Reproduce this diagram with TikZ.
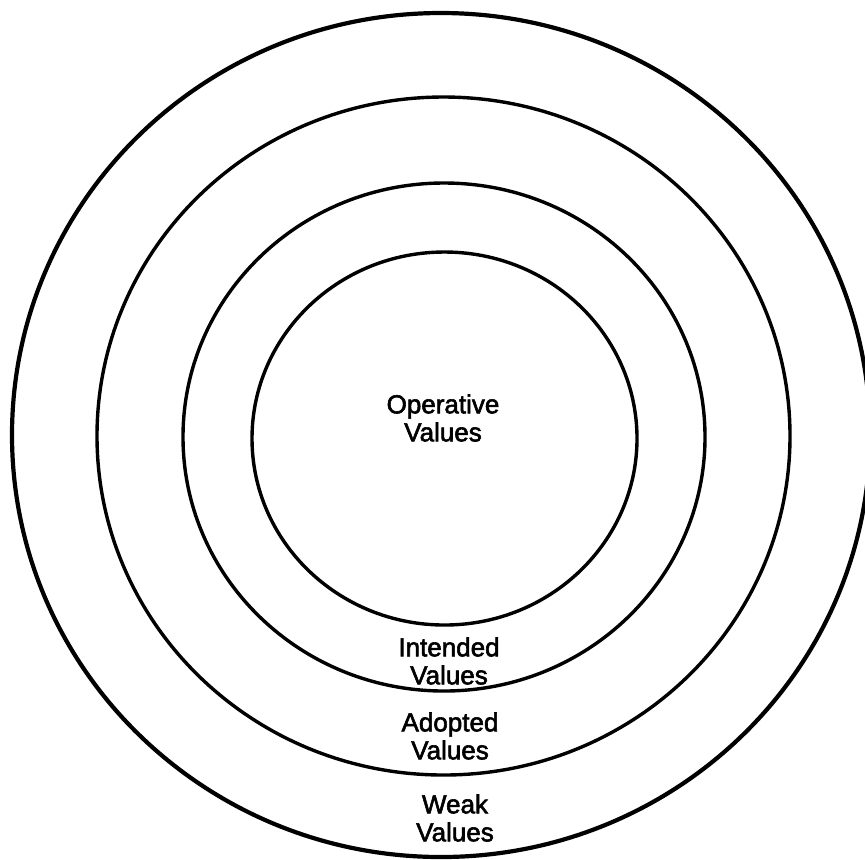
\documentclass[tikz,border=0pt]{standalone}
\usepackage{fontspec}
\setmainfont[FakeBold=2.2]{Liberation Sans}
\begin{document}
\begin{tikzpicture}[x=0.5pt,y=-0.5pt,
  ring/.style={draw=black,line width=1.7pt},
  outerring/.style={draw=black,line width=2.1pt},
  lbl/.style={align=center,font=\fontsize{13pt}{14pt}\selectfont,inner sep=0pt}]
\useasboundingbox (0,0) rectangle (865,859);
\path[outerring] (441,435) ellipse [x radius=214.5pt, y radius=211pt];
\path[ring] (443.5,436) ellipse [x radius=173.25pt, y radius=169.5pt];
\path[ring] (444,437) ellipse [x radius=130.5pt, y radius=127pt];
\path[ring] (444.5,438.5) ellipse [x radius=96.25pt, y radius=93.25pt];
\node[lbl] (op) at (443,418) {Operative\\Values};
\node[lbl] (int) at (449,661) {Intended\\Values};
\node[lbl] (adp) at (450,736) {Adopted\\Values};
\node[lbl] (wk) at (455,818) {Weak\\Values};
\end{tikzpicture}
\end{document}
